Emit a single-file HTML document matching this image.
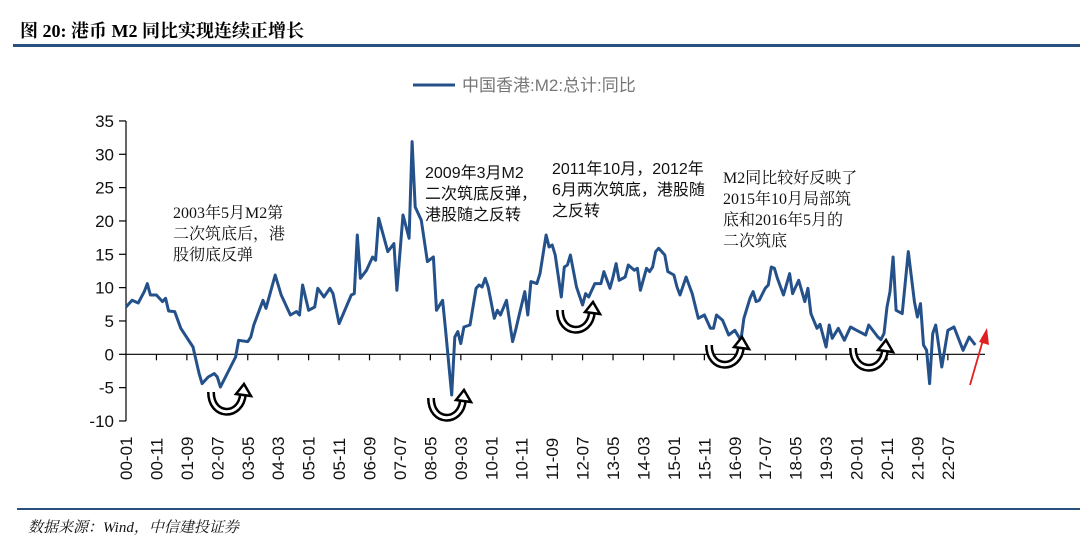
<!DOCTYPE html>
<html><head><meta charset="utf-8">
<style>
html,body{margin:0;padding:0;background:#fff;}
body{width:1080px;height:549px;position:relative;overflow:hidden;font-family:"Liberation Sans","Noto Sans CJK SC",sans-serif;}
.title{position:absolute;left:20px;top:17px;font-family:"Liberation Serif","Noto Serif CJK SC",serif;font-weight:bold;font-size:18px;color:#000;}
.hline{position:absolute;left:13px;right:0;height:3px;background:#2a5080;}
.src{position:absolute;left:28px;top:516px;font-family:"Liberation Serif","Noto Serif CJK SC",serif;font-style:italic;font-size:15px;color:#111;}
</style></head><body>
<div class="title">图 20: 港币 M2 同比实现连续正增长</div>
<div class="hline" style="top:44px"></div>
<div class="hline" style="top:508px;left:17px;height:2px"></div>
<div class="src">数据来源：Wind，中信建投证券</div>
<svg id="chart" width="1080" height="549" style="position:absolute;left:0;top:0"></svg>
<script>
const months=[0,2,4,6,7,8,10,12,13,14,16,18,22,24,25,27,29,30,31,36,37,40,41,42,45,46,49,51,53,54,56,57,58,60,62,63,65,67,68,70,74,75,76,77,79,81,82,83,86,88,89,91,93,94,95,97,99,101,102,104,105,107,108,109,110,111,113,115,116,117,118,119,121,122,123,125,127,128,129,131,132,133,135,136,138,139,140,141,143,144,145,146,148,150,151,152,154,156,157,159,160,161,162,164,165,167,168,169,171,172,173,174,175,177,178,180,181,182,184,186,188,190,192,193,194,196,198,200,202,203,205,206,207,208,210,211,212,213,214,216,218,219,221,223,224,225,227,228,230,231,232,234,236,238,240,243,244,247,248,249,250,251,252,253,255,257,259,260,261,262,263,264,265,266,268,270,272,275,277,279];
const values=[7.1,8.1,7.7,9.4,10.6,8.9,8.9,7.9,8.4,6.5,6.4,3.9,1.1,-2.9,-4.4,-3.4,-2.9,-3.4,-4.9,-0.4,2.1,1.9,2.6,4.4,8.1,6.9,11.9,8.9,6.9,5.9,6.4,5.9,10.4,6.6,7.1,9.9,8.6,9.9,9.1,4.6,8.9,9.1,17.9,11.4,12.6,14.6,14.1,20.4,15.4,16.6,9.6,20.9,17.4,31.9,22.1,20.1,13.9,14.6,6.6,8.1,3.6,-6.1,2.6,3.4,1.6,4.1,4.4,9.9,10.4,10.1,11.4,10.1,5.4,6.6,5.9,8.1,1.9,3.6,5.6,9.4,5.9,10.9,10.6,12.1,17.9,16.1,16.4,14.9,8.6,13.1,13.4,14.9,10.1,7.4,9.1,8.6,10.6,10.6,12.4,9.9,11.6,13.6,11.1,11.6,13.4,12.6,12.9,9.6,12.9,12.4,13.1,15.4,15.9,14.9,12.4,11.9,10.1,8.9,11.6,9.1,5.4,5.9,3.9,3.9,5.9,5.1,2.9,3.6,2.1,5.4,8.4,9.4,7.9,8.1,9.9,10.4,13.1,12.9,11.4,8.9,12.1,9.1,11.1,7.9,9.9,6.1,3.9,4.5,1.1,4.4,2.4,3.9,2.1,4.1,3.6,2.9,4.4,2.6,2.2,3.1,7.1,9.4,14.6,6.6,6.1,15.4,7.9,5.6,7.6,1.4,0.6,-4.4,3.1,4.4,-1.9,3.6,4.1,0.6,2.6,1.4,1.6,-0.1,1.9];
const xLabels=["00-01","00-11","01-09","02-07","03-05","04-03","05-01","05-11","06-09","07-07","08-05","09-03","10-01","10-11","11-09","12-07","13-05","14-03","15-01","15-11","16-09","17-07","18-05","19-03","20-01","20-11","21-09","22-07"];
const yTicks=[35,30,25,20,15,10,5,0,-5,-10];
const NS="http://www.w3.org/2000/svg";
const svg=document.getElementById('chart');
const X=m=>126+3.044*m;
const Y=v=>354.3-v*6.667;
function mk(t,a,p){const e=document.createElementNS(NS,t);for(const k in a)e.setAttribute(k,a[k]);(p||svg).appendChild(e);return e;}
const ya=mk('line',{x1:126,y1:Y(35),x2:126,y2:Y(-10),stroke:'#000','stroke-width':1.2});


yTicks.forEach(v=>{
  mk('line',{x1:119,y1:Y(v),x2:126,y2:Y(v),stroke:'#000','stroke-width':1.2});
  const t=mk('text',{x:114,y:Y(v)+6,'text-anchor':'end','font-size':17,fill:'#111'});
  t.textContent=v;
  
  
});
const xa=mk('line',{x1:126,y1:Y(0),x2:985,y2:Y(0),stroke:'#000','stroke-width':1.2});


xLabels.forEach((l,i)=>{
  const x=X(i*10);
  if(i>0) mk('line',{x1:x,y1:Y(0),x2:x,y2:Y(0)+6,stroke:'#000','stroke-width':1.2});
  const t=mk('text',{transform:`translate(${x+6},${480}) rotate(-90)`,'text-anchor':'start','font-size':17,fill:'#111'});
  t.textContent=l;
  
  
});
const pl=mk('polyline',{points:months.map((m,i)=>X(m).toFixed(1)+','+Y(values[i]).toFixed(1)).join(' '),fill:'none',stroke:'#24518a','stroke-width':3,'stroke-linejoin':'round'});


const lg=mk('g',{});


mk('line',{x1:413,y1:85,x2:455,y2:85,stroke:'#24518a','stroke-width':3},lg);
const lt=mk('text',{x:462,y:91,'font-size':17,fill:'#777'},lg);lt.textContent='中国香港:M2:总计:同比';
const serif='font-family:"Liberation Serif","Noto Serif CJK SC",serif';
const sans='font-family:"Liberation Sans","Noto Sans CJK SC",sans-serif';
const notes=[[173,218,['2003年5月M2第','二次筑底后，港','股彻底反弹'],serif],[425,178,['2009年3月M2','二次筑底反弹，','港股随之反转'],sans],[552,174,['2011年10月，2012年','6月两次筑底，港股随','之反转'],sans],[723,183,['M2同比较好反映了','2015年10月局部筑','底和2016年5月的','二次筑底'],serif]];
notes.forEach(n=>{
  const t=mk('text',{x:n[0],y:n[1],'font-size':16,fill:'#111',style:n[3]});
  
  
  n[2].forEach((s,i)=>{const ts=mk('tspan',{x:n[0],dy:i?21:0},t);ts.textContent=s;});
});
[[208,392],[428,398],[557,310],[706,345],[850,348]].forEach(p=>{
  const [x,y]=p;
  const d=`M${x+3},${y} C${x+3},${y+26} ${x+33},${y+26} ${x+35},${y+2}`;
  const g=mk('g',{});
  
  
  mk('path',{d,fill:'none',stroke:'#000','stroke-width':8},g);
  mk('path',{d,fill:'none',stroke:'#fff','stroke-width':3},g);
  mk('path',{d:`M${x+28},${y+2} L${x+36},${y-8} L${x+43},${y+4} Z`,fill:'#fff',stroke:'#000','stroke-width':2.5},g);
});
const ra=mk('g',{});


mk('line',{x1:970,y1:385,x2:983,y2:340,stroke:'#e02020','stroke-width':1.8},ra);
mk('path',{d:'M979,342 L987,328 L989,345 Z',fill:'#e02020'},ra);
</script>
</body></html>
